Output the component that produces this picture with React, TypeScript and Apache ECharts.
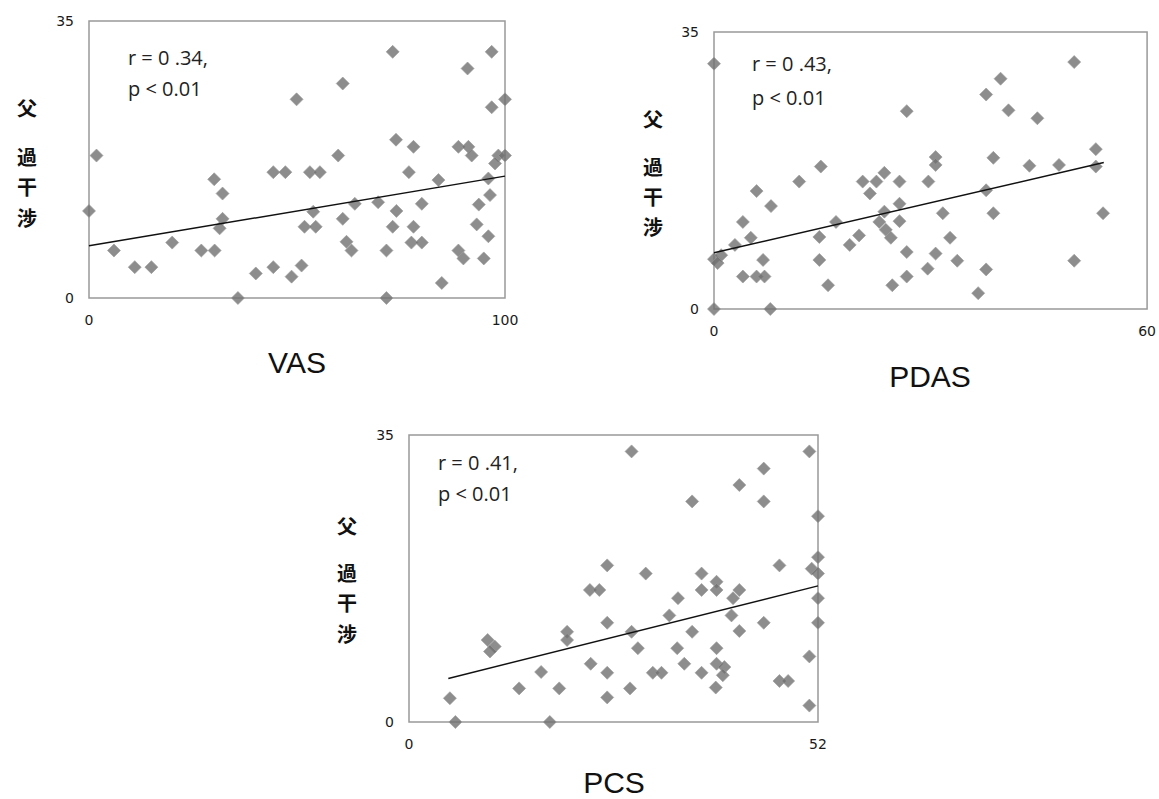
import React, { useEffect, useRef } from "react";
import * as echarts from "echarts";

// ---- data ----
const vasPoints: number[][] = [
  [1.8, 18.0], [0, 11.0], [6.0, 6.0], [11.0, 3.9], [15.0, 3.9], [20.0, 7.0], [27.0, 6.0], [30.2, 6.0],
  [30.1, 15.0], [32.1, 13.2], [32.1, 10.0], [31.4, 8.8], [35.8, 0], [40.1, 3.1], [44.3, 3.9], [44.3, 15.9],
  [47.2, 15.9], [73.0, 31.1], [96.8, 31.1], [91.0, 29.0], [61.0, 27.1], [49.9, 25.1], [100, 25.1], [96.8, 24.1],
  [73.8, 20.0], [78.0, 19.1], [88.8, 19.1], [91.2, 19.1], [92.0, 18.0], [59.9, 18.0], [98.4, 18.0], [100, 18.0],
  [97.6, 17.0], [53.1, 15.9], [55.5, 15.9], [76.9, 15.9], [84.0, 14.9], [96.0, 15.1], [53.9, 10.9], [63.9, 11.9],
  [69.5, 12.1], [73.9, 11.0], [80.0, 11.9], [93.7, 11.8], [96.4, 13.0], [51.8, 9.0], [54.5, 9.0], [61.0, 10.0],
  [61.9, 7.1], [63.1, 6.0], [73.0, 9.0], [78.0, 9.0], [77.5, 7.0], [80.0, 7.0], [71.5, 6.0], [93.2, 9.3],
  [96.0, 7.8], [88.8, 6.0], [90.0, 5.0], [94.9, 5.0], [48.7, 2.7], [51.1, 4.1], [84.8, 1.9], [71.5, 0],
];
const pdasPoints: number[][] = [
  [0, 31.0], [0, 0], [7.8, 0], [14.8, 18.0], [11.8, 16.1], [5.9, 14.9], [7.9, 13.0], [4.0, 11.0],
  [5.1, 9.0], [2.9, 8.1], [0, 6.3], [1.0, 6.8], [0.5, 5.8], [6.8, 6.2], [4.0, 4.1], [5.9, 4.1],
  [7.0, 4.1], [14.6, 6.2], [15.8, 3.0], [14.6, 9.1], [16.9, 11.0], [18.8, 8.1], [20.1, 9.3], [20.6, 16.1],
  [21.6, 14.6], [22.5, 16.1], [23.6, 17.2], [49.9, 31.2], [39.7, 29.1], [37.7, 27.1], [40.8, 25.1], [44.8, 24.1],
  [26.7, 25.0], [30.7, 19.2], [30.7, 18.2], [38.7, 19.1], [43.7, 18.1], [47.8, 18.2], [52.9, 20.2], [52.9, 18.0],
  [25.7, 16.1], [29.7, 16.1], [37.7, 15.0], [25.7, 13.3], [25.7, 11.1], [23.6, 12.3], [31.7, 12.1], [38.7, 12.1],
  [53.9, 12.1], [22.9, 11.0], [23.8, 10.0], [24.5, 9.0], [32.7, 9.0], [26.7, 7.2], [30.7, 7.0], [33.7, 6.1],
  [29.6, 5.1], [37.7, 5.0], [26.7, 4.1], [24.7, 3.0], [36.6, 2.0], [49.9, 6.1],
];
const pcsPoints: number[][] = [
  [5.2, 2.9], [5.9, 0], [17.9, 0], [10.0, 10.0], [10.9, 9.2], [10.3, 8.6], [20.1, 11.0], [20.1, 10.0],
  [16.8, 6.1], [14.0, 4.1], [19.1, 4.1], [28.3, 33.0], [50.9, 33.0], [45.1, 30.9], [42.0, 28.9], [36.0, 26.9],
  [45.1, 26.9], [52, 25.1], [25.2, 19.1], [30.1, 18.1], [37.2, 18.1], [47.1, 19.1], [52, 20.1], [51.2, 18.7],
  [52, 18.1], [39.1, 17.1], [39.1, 16.1], [37.2, 16.1], [23.0, 16.1], [24.2, 16.1], [42.0, 16.1], [41.2, 15.1],
  [52, 15.1], [34.2, 15.1], [33.1, 13.0], [41.0, 13.0], [25.2, 12.1], [45.1, 12.1], [52, 12.1], [28.3, 11.0],
  [36.0, 11.0], [42.0, 11.1], [29.1, 9.0], [34.1, 9.0], [39.1, 9.0], [23.1, 7.1], [25.2, 6.0], [31.0, 6.0],
  [32.1, 6.0], [35.0, 7.1], [37.2, 6.0], [39.1, 7.1], [40.1, 6.7], [39.9, 5.7], [50.9, 8.0], [47.1, 5.0],
  [48.2, 5.0], [25.2, 3.0], [28.1, 4.1], [39.0, 4.2], [50.9, 2.0],
];
const vasTrend: number[][] = [[0, 6.6], [100, 15.4]];
const pdasTrend: number[][] = [[0, 7.1], [54, 18.5]];
const pcsTrend: number[][] = [[5, 5.3], [52, 16.6]];

const xMaxes = [100, 60, 52];
const yMax = 35;
const xTitles = ["VAS", "PDAS", "PCS"];
const rTexts = ["r = 0 .34,", "r = 0 .43,", "r = 0 .41,"];
const pTexts = ["p < 0.01", "p < 0.01", "p < 0.01"];
const yTitleChars = ["父", "過", "干", "涉"];

// ---- layout ----
const grids = [
  { left: 89, top: 21, width: 416, height: 277 },
  { left: 714, top: 32, width: 434, height: 277 },
  { left: 409, top: 435, width: 409, height: 287 },
];
const statPos = [
  { x: 128, r: 57, p: 88 },
  { x: 752, r: 63, p: 97 },
  { x: 438, r: 462, p: 493 },
];
const yTitlePos = [
  { x: 27, ys: [107, 156, 186.5, 217] },
  { x: 653, ys: [118, 166, 196, 226] },
  { x: 347, ys: [525, 572, 602.5, 633] },
];
const xTitlePos = [
  { x: 297, y: 362 },
  { x: 930, y: 376 },
  { x: 614, y: 782 },
];

export default function App() {
  const ref = useRef<HTMLDivElement>(null);
  useEffect(() => {
    if (!ref.current) return;
    const chart = echarts.init(ref.current, undefined, { renderer: "svg" });
    const pointSets = [vasPoints, pdasPoints, pcsPoints];
    const trends = [vasTrend, pdasTrend, pcsTrend];
    const tickLabel = { fontFamily: "DejaVu Sans", fontSize: 14, color: "#1a1a1a", margin: 15 };

    const graphic: any[] = [];
    for (let i = 0; i < 3; i++) {
      graphic.push({
        type: "text", x: statPos[i].x, y: statPos[i].r,
        style: { text: rTexts[i], fontFamily: "Open Sans", fontSize: 20, lineHeight: 22, fill: "#222", align: "left", verticalAlign: "middle" },
      });
      graphic.push({
        type: "text", x: statPos[i].x, y: statPos[i].p,
        style: { text: pTexts[i], fontFamily: "Open Sans", fontSize: 20, lineHeight: 22, fill: "#222", align: "left", verticalAlign: "middle" },
      });
      yTitleChars.forEach((c, k) => {
        graphic.push({
          type: "text", x: yTitlePos[i].x, y: yTitlePos[i].ys[k],
          style: { text: c, fontFamily: "Noto Sans CJK JP", fontWeight: "bold", fontSize: 20, lineHeight: 20, fill: "#111", align: "center", verticalAlign: "middle" },
        });
      });
      graphic.push({
        type: "text", x: xTitlePos[i].x, y: xTitlePos[i].y,
        style: { text: xTitles[i], fontFamily: "Liberation Sans", fontSize: 30, lineHeight: 30, fill: "#111", align: "center", verticalAlign: "middle" },
      });
    }

    chart.setOption({
      animation: false,
      backgroundColor: "#fff",
      grid: grids.map((g) => ({ ...g, show: true, borderColor: "#999", borderWidth: 1.5, backgroundColor: "transparent" })),
      xAxis: xMaxes.map((m, i) => ({
        type: "value", gridIndex: i, min: 0, max: m, interval: m,
        axisLine: { show: false }, axisTick: { show: false }, splitLine: { show: false },
        axisLabel: tickLabel,
      })),
      yAxis: [0, 1, 2].map((i) => ({
        type: "value", gridIndex: i, min: 0, max: yMax, interval: yMax,
        axisLine: { show: false }, axisTick: { show: false }, splitLine: { show: false },
        axisLabel: tickLabel,
      })),
      series: [
        ...pointSets.map((pts, i) => ({
          type: "scatter", xAxisIndex: i, yAxisIndex: i, data: pts,
          symbol: "diamond", symbolSize: 13,
          itemStyle: { color: "#707070", borderColor: "#9a9a9a", borderWidth: 0.8 },
          z: 3,
        })),
        ...trends.map((t, i) => ({
          type: "line", xAxisIndex: i, yAxisIndex: i, data: t,
          showSymbol: false, symbol: "none",
          lineStyle: { color: "#111", width: 1.5 }, z: 4,
        })),
      ],
      graphic,
    });
    return () => chart.dispose();
  }, []);
  return (
    <div
      ref={ref}
      style={{ position: "fixed", left: 0, top: 0, width: 1159, height: 799, background: "#fff" }}
    />
  );
}
